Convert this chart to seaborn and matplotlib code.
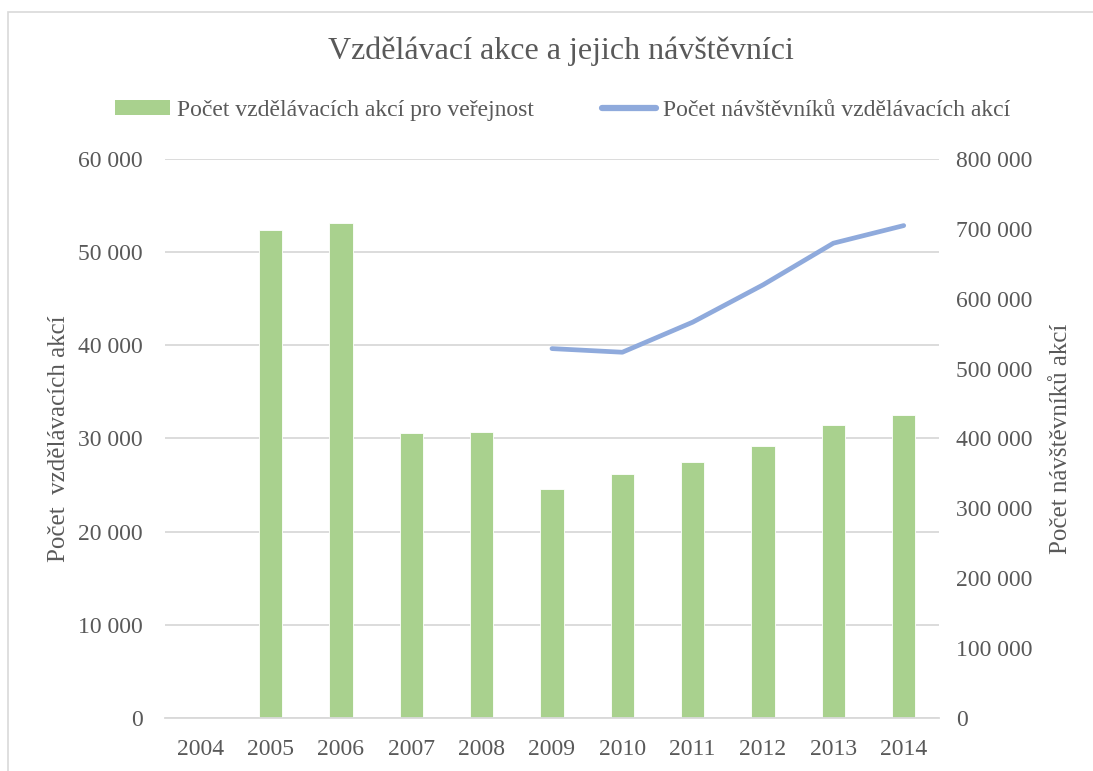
import numpy as np
import pandas as pd
import matplotlib
matplotlib.use("Agg")
import matplotlib.pyplot as plt
from matplotlib.patches import Patch
from matplotlib.lines import Line2D
from matplotlib.ticker import FuncFormatter
import seaborn as sns

years = ["2004", "2005", "2006", "2007", "2008", "2009", "2010", "2011", "2012", "2013", "2014"]
events = [np.nan, 52400, 53100, 30550, 30650, 24570, 26150, 27470, 29150, 31400, 32500]
visitors = [np.nan, np.nan, np.nan, np.nan, np.nan, 528500, 523300, 566300, 619700, 679300, 704500]

title = "Vzdělávací akce a jejich návštěvníci"
label_bars = "Počet vzdělávacích akcí pro veřejnost"
label_line = "Počet návštěvníků vzdělávacích akcí"
ylabel_left = "Počet  vzdělávacích akcí"
ylabel_right = "Počet návštěvníků akcí"

GREEN = "#A9D18E"
BLUE = "#8FAADC"
TXT = "#595959"
GRID = "#D9D9D9"

sns.set_theme(style="white")
plt.rcParams["font.family"] = ["Liberation Serif", "DejaVu Serif"]

fig = plt.figure(figsize=(10.93, 7.71), dpi=100)
ax = fig.add_axes([0.151, 0.0687, 0.708, 0.7253])

df = pd.DataFrame({"year": years, "events": events, "visitors": visitors})
df["pos"] = np.arange(len(years))

sns.barplot(data=df, x="year", y="events", color=GREEN, saturation=1, width=0.33,
            edgecolor="white", linewidth=0.6, ax=ax)
ax.set_ylim(0, 60000)
ax.set_yticks(np.arange(0, 60001, 10000))
ax.set_xlim(-0.5, len(years) - 0.5)
fmt = FuncFormatter(lambda v, p: f"{int(v):,}".replace(",", " "))
ax.yaxis.set_major_formatter(fmt)
ax.yaxis.grid(True, color=GRID, linewidth=1.3)
ax.set_axisbelow(True)
for s in ax.spines.values():
    s.set_visible(False)
ax.spines["bottom"].set_visible(True)
ax.spines["bottom"].set_color(GRID)
ax.spines["bottom"].set_linewidth(1.3)
ax.tick_params(axis="both", length=0, labelsize=17, colors=TXT)
ax.tick_params(axis="y", pad=16)
ax.tick_params(axis="x", pad=15)
ax.set_xlabel("")
ax.set_ylabel(ylabel_left, fontsize=18, color=TXT)
ax.yaxis.set_label_coords(-0.123, 0.5)

ax2 = ax.twinx()
line_df = df.dropna(subset=["visitors"])
sns.lineplot(data=line_df, x="pos", y="visitors", color=BLUE, linewidth=3.4,
             solid_capstyle="round", ax=ax2)
ax2.set_ylim(0, 800000)
ax2.set_yticks(np.arange(0, 800001, 100000))
ax2.yaxis.set_major_formatter(fmt)
ax2.set_xlim(-0.5, len(years) - 0.5)
for s in ax2.spines.values():
    s.set_visible(False)
ax2.tick_params(axis="y", length=0, labelsize=17, colors=TXT, pad=12.5)
ax2.set_ylabel(ylabel_right, fontsize=18, color=TXT)
ax2.yaxis.set_label_coords(1.143, 0.5)
ax2.set_xlabel("")

fig.text(0.513, 0.933, title, ha="center", va="center", fontsize=23, color=TXT)

handles = [Patch(facecolor=GREEN, edgecolor="none"),
           Line2D([0], [0], color=BLUE, linewidth=4.5, solid_capstyle="round")]
fig.legend(handles, [label_bars, label_line], loc="center", bbox_to_anchor=(0.515, 0.857),
           ncol=2, frameon=False, fontsize=17, labelcolor=TXT, handlelength=2.3,
           handleheight=0.6, handletextpad=0.3, columnspacing=2.9)

border = plt.Rectangle((0.0075, -0.01), 1.05, 0.995, transform=fig.transFigure,
                       fill=False, edgecolor=GRID, linewidth=1.2)
fig.patches.append(border)

fig.savefig("out.png", dpi=100)
